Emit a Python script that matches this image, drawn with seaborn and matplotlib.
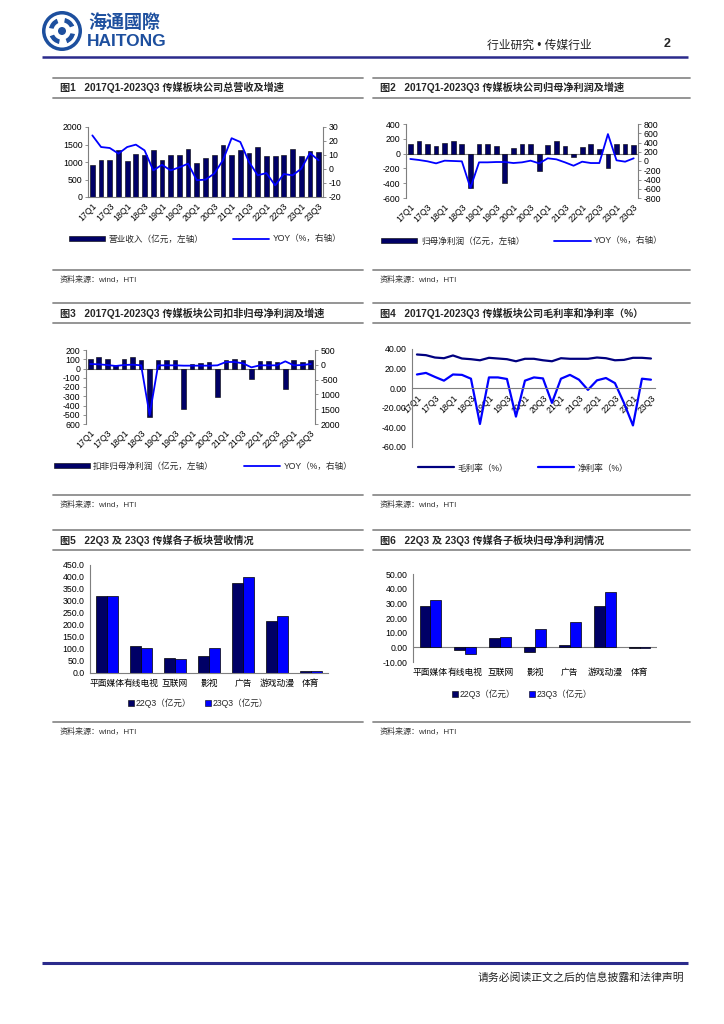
import numpy as np
import pandas as pd
import matplotlib
matplotlib.use('Agg')
import matplotlib.pyplot as plt
import seaborn as sns
from matplotlib.lines import Line2D
from matplotlib.patches import Patch, Circle, Wedge

# ---------------- data ----------------
quarters = ['17Q1', '17Q2', '17Q3', '17Q4', '18Q1', '18Q2', '18Q3', '18Q4',
            '19Q1', '19Q2', '19Q3', '19Q4', '20Q1', '20Q2', '20Q3', '20Q4',
            '21Q1', '21Q2', '21Q3', '21Q4', '22Q1', '22Q2', '22Q3', '22Q4',
            '23Q1', '23Q2', '23Q3']

revenue = [905, 1048, 1048, 1333, 1029, 1238, 1190, 1333, 1067, 1210, 1210, 1381,
           981, 1114, 1190, 1476, 1190, 1333, 1257, 1419, 1171, 1171, 1210, 1362,
           1171, 1305, 1276]
revenue_yoy = [24, 15.7, 15, 11, 15.7, 17.4, 13.3, -1, 3, -1, 1.2, 3.8, -8, -7.6, -3.3,
               6.2, 22, 19.3, 5, -4.5, -2.9, -11.7, -3.6, -4.5, 0.2, 11.4, 6.2]

np_parent = [132, 173, 123, 105, 145, 164, 123, -464, 123, 132, 105, -391, 73, 123, 123,
             -232, 118, 177, 105, -41, 91, 123, 64, -200, 123, 123, 118]
np_parent_yoy = [44, 22, -7, -51, 7, 0, -7, -582, -29, -29, -22, -22, -44, -29, 7, -51,
                 58, 36, -29, -102, -15, -44, -44, 582, 15, -15, 58]

np_deduct = [99, 121, 99, 34, 99, 124, 95, -521, 88, 88, 88, -441, 45, 56, 67, -304,
             88, 99, 88, -110, 85, 85, 67, -218, 88, 74, 88]
np_deduct_yoy = [27, 16, -7, -40, -7, 5, -18, -1695, -18, -18, -18, -29, -29, -29, -29,
                 -18, 95, 95, 50, -86, -18, -18, -18, 117, -18, -7, 27]

gross_margin = [34.4, 33.7, 31.3, 30.6, 33.4, 30.3, 29.6, 28.5, 31, 30.3, 29.6, 27.5, 30,
                30, 28.5, 27.5, 30.6, 30, 30, 30, 31.3, 30.6, 28.5, 28.9, 31, 31, 30.3]
net_margin = [14, 15.6, 11.5, 7.7, 14, 13.6, 9.7, -36.5, 11, 11, 9.4, -29, 7.7, 11, 10,
              -15, 9.7, 13.6, 8.7, -1.7, 8, 10.4, 5.2, -15, -38, 9.7, 8.7]

sectors = ['平面媒体', '有线电视', '互联网', '影视', '广告', '游戏动漫', '体育']
rev_22q3 = [322, 114, 61, 71, 377, 216, 10]
rev_23q3 = [319, 106, 58, 106, 402, 238, 7]
np_22q3 = [28.4, -1.6, 6.4, -3.0, 1.4, 28.2, -0.7]
np_23q3 = [32.3, -4.8, 7.3, 12.5, 17.5, 37.7, -0.5]
series_names = ['22Q3（亿元）', '23Q3（亿元）']

# ---------------- style ----------------
sns.set_theme(style='white')
plt.rcParams['font.family'] = ['Liberation Sans', 'Noto Sans CJK SC', 'DejaVu Sans']
plt.rcParams['axes.unicode_minus'] = False

NAVY = '#000066'
BLUE = '#0000FF'
DBLUE_LINE = '#000080'
GRAY = '#8c8c8c'
HEAD = '#2b2b8c'
TICK_FS = 6.3

W, H = 724, 1024
fig = plt.figure(figsize=(7.24, 10.24), dpi=100)
fig.patch.set_facecolor('white')

bg = fig.add_axes([0, 0, 1, 1])
bg.set_xlim(0, W)
bg.set_ylim(H, 0)
bg.axis('off')


def add_ax(x0, y0, x1, y1):
    return fig.add_axes([x0 / W, 1 - y1 / H, (x1 - x0) / W, (y1 - y0) / H])


# ---------------- header / footer ----------------
logo_c = (62, 31)
bg.add_patch(Circle(logo_c, 20, facecolor='#1d4f9e', edgecolor='none'))
bg.add_patch(Circle(logo_c, 16.5, facecolor='white', edgecolor='none'))
for ang in (0, 90, 180, 270):
    bg.add_patch(Wedge(logo_c, 14, ang + 10, ang + 70, width=6, facecolor='#1d4f9e'))
bg.add_patch(Circle(logo_c, 4, facecolor='#1d4f9e', edgecolor='none'))
bg.text(88, 23, '海通國際', fontsize=13, color='#1d4f9e', weight='bold', va='center')
bg.text(87, 41, 'HAITONG', fontsize=12.5, color='#1d4f9e', weight='bold', va='center')
bg.text(487, 46, '行业研究 • 传媒行业', fontsize=8.5, color='#222222', va='center')
bg.text(664, 44, '2', fontsize=9, weight='bold', va='center')
bg.plot([42, 688], [57, 57], color=HEAD, lw=1.8, solid_capstyle='butt')
bg.plot([42, 688], [963, 963], color=HEAD, lw=2.2, solid_capstyle='butt')
bg.text(684, 978, '请务必阅读正文之后的信息披露和法律声明', fontsize=7.8, ha='right',
        va='center', color='#222222')


# ---------------- section frames ----------------
def section(x0, x1, ytop, ybot, title):
    bg.plot([x0, x1], [ytop, ytop], color=GRAY, lw=1.3)
    bg.plot([x0, x1], [ytop + 20, ytop + 20], color=GRAY, lw=1.3)
    bg.plot([x0, x1], [ybot, ybot], color=GRAY, lw=1.3)
    bg.text(x0 + 7, ytop + 10, title, fontsize=7.3, weight='bold', va='center')
    bg.text(x0 + 7, ybot + 10, '资料来源：wind，HTI', fontsize=5.8, va='center',
            color='#333333')


section(53, 363, 77.5, 270, '图1   2017Q1-2023Q3 传媒板块公司总营收及增速')
section(373, 690, 77.5, 270, '图2   2017Q1-2023Q3 传媒板块公司归母净利润及增速')
section(53, 363, 303, 495, '图3   2017Q1-2023Q3 传媒板块公司扣非归母净利润及增速')
section(373, 690, 303, 495, '图4   2017Q1-2023Q3 传媒板块公司毛利率和净利率（%）')
section(53, 363, 530, 722, '图5   22Q3 及 23Q3 传媒各子板块营收情况')
section(373, 690, 530, 722, '图6   22Q3 及 23Q3 传媒各子板块归母净利润情况')


def style_axis(ax, left=True, right=False, bottom=True):
    for s in ax.spines.values():
        s.set_visible(False)
    ax.spines['left'].set_visible(left)
    ax.spines['right'].set_visible(right)
    ax.spines['bottom'].set_visible(bottom)
    for s in ax.spines.values():
        s.set_color('#7f7f7f')
        s.set_linewidth(0.8)
    ax.tick_params(axis='both', labelsize=TICK_FS, length=2.5, width=0.6, color='#7f7f7f',
                   pad=1.5, colors='black')
    ax.set_xlabel('')
    ax.set_ylabel('')
    ax.grid(False)
    ax.set_facecolor('none')


def ts_chart(rect, bars, line, ylim, yticks, ylabels, y2lim, y2ticks, y2labels,
             zero_line=False):
    ax = add_ax(*rect)
    sns.barplot(x=quarters, y=bars, color=NAVY, saturation=1, width=0.55,
                edgecolor='black', linewidth=0.4, ax=ax)
    ax2 = ax.twinx()
    sns.lineplot(x=np.arange(len(quarters)), y=line, ax=ax2, color=BLUE, lw=1.3)
    ax.set_xlim(-0.5, len(quarters) - 0.5)
    ax.set_ylim(*ylim)
    ax.set_yticks(yticks)
    ax.set_yticklabels(ylabels)
    ax2.set_ylim(*y2lim)
    ax2.set_yticks(y2ticks)
    ax2.set_yticklabels(y2labels)
    ax.set_xticks(range(0, len(quarters), 2))
    ax.set_xticklabels(quarters[::2], rotation=45, ha='right', rotation_mode='anchor')
    style_axis(ax, left=True, bottom=not zero_line)
    style_axis(ax2, left=False, right=True, bottom=False)
    ax.tick_params(axis='x', length=0, pad=3)
    if zero_line:
        ax.axhline(0, color='#7f7f7f', lw=0.8, zorder=0.5)
    return ax, ax2


def bar_line_legend(cx, cy, bar_label, line_label):
    handles = [Patch(facecolor=NAVY, edgecolor='black', linewidth=0.4),
               Line2D([], [], color=BLUE, lw=1.3)]
    fig.legend(handles, [bar_label, line_label], loc='center', ncol=2,
               bbox_to_anchor=(cx, cy), bbox_transform=bg.transData, frameon=False,
               fontsize=6.2, handlelength=4.2, handleheight=0.6, columnspacing=3.5,
               handletextpad=0.4)


# ---------------- Chart 1 ----------------
ts_chart((88, 127, 323, 197), revenue, revenue_yoy,
         (0, 2000), [0, 500, 1000, 1500, 2000], ['0', '500', '1000', '1500', '2000'],
         (-20, 30), [-20, -10, 0, 10, 20, 30], ['-20', '-10', '0', '10', '20', '30'])
bar_line_legend(205, 239, '营业收入（亿元，左轴）', 'YOY（%，右轴）')

# ---------------- Chart 2 ----------------
ts_chart((406, 124, 638, 198), np_parent, np_parent_yoy,
         (-600, 400), [-600, -400, -200, 0, 200, 400],
         ['-600', '-400', '-200', '0', '200', '400'],
         (-800, 800), list(range(-800, 801, 200)),
         ['-800', '-600', '-400', '-200', '0', '200', '400', '600', '800'],
         zero_line=True)
bar_line_legend(522, 241, '归母净利润（亿元，左轴）', 'YOY（%，右轴）')

# ---------------- Chart 3 ----------------
ts_chart((86, 350, 315, 424), np_deduct, np_deduct_yoy,
         (-600, 200), list(range(-600, 201, 100)),
         ['600', '-500', '-400', '-300', '-200', '-100', '0', '100', '200'],
         (-2000, 500), list(range(-2000, 501, 500)),
         ['2000', '1500', '1000', '-500', '0', '500'],
         zero_line=True)
bar_line_legend(203, 466, '扣非归母净利润（亿元，左轴）', 'YOY（%，右轴）')

# ---------------- Chart 4 ----------------
ax4 = add_ax(412, 349, 655, 447)
xs = np.arange(len(quarters))
sns.lineplot(x=xs, y=gross_margin, ax=ax4, color=DBLUE_LINE, lw=1.6)
sns.lineplot(x=xs, y=net_margin, ax=ax4, color=BLUE, lw=1.6)
ax4.set_xlim(-0.55, len(quarters) - 0.55)
ax4.set_ylim(-60, 40)
ax4.set_yticks([-60, -40, -20, 0, 20, 40])
ax4.set_yticklabels(['-60.00', '-40.00', '-20.00', '0.00', '20.00', '40.00'])
style_axis(ax4, left=True, bottom=True)
ax4.spines['bottom'].set_position(('data', 0))
ax4.set_xticks(range(0, len(quarters), 2))
ax4.set_xticklabels(quarters[::2], rotation=45, ha='right', rotation_mode='anchor')
ax4.tick_params(axis='x', length=2, pad=2)
fig.legend([Line2D([], [], color=DBLUE_LINE, lw=1.6), Line2D([], [], color=BLUE, lw=1.6)],
           ['毛利率（%）', '净利率（%）'], loc='center', ncol=2,
           bbox_to_anchor=(523, 468), bbox_transform=bg.transData, frameon=False,
           fontsize=6.2, handlelength=4.2, columnspacing=3.5, handletextpad=0.4)


# ---------------- Charts 5 & 6 ----------------
def group_chart(rect, v1, v2, ylim, yticks, fmt, zero_line=False):
    ax = add_ax(*rect)
    df = pd.DataFrame({'板块': sectors * 2,
                       '值': list(v1) + list(v2),
                       '期间': [series_names[0]] * len(sectors) + [series_names[1]] * len(sectors)})
    sns.barplot(data=df, x='板块', y='值', hue='期间', palette=[NAVY, BLUE], saturation=1,
                width=0.62, gap=0, edgecolor='black', linewidth=0.5, ax=ax, legend=False)
    ax.set_xlim(-0.5, len(sectors) - 0.5)
    ax.set_ylim(*ylim)
    ax.set_yticks(yticks)
    ax.set_yticklabels([fmt % t for t in yticks])
    style_axis(ax, left=True, bottom=not zero_line)
    ax.tick_params(axis='x', length=0, pad=4, labelsize=6.3)
    if zero_line:
        ax.axhline(0, color='#7f7f7f', lw=0.8, zorder=0.5)
    return ax


group_chart((90, 565, 328, 673), rev_22q3, rev_23q3, (0, 450),
            list(range(0, 451, 50)), '%.1f')
group_chart((413, 574, 657, 662), np_22q3, np_23q3, (-10, 50),
            list(range(-10, 51, 10)), '%.2f', zero_line=True)


def square_legend(cx, cy):
    handles = [Patch(facecolor=NAVY, edgecolor='black', linewidth=0.4),
               Patch(facecolor=BLUE, edgecolor='black', linewidth=0.4)]
    fig.legend(handles, series_names, loc='center', ncol=2,
               bbox_to_anchor=(cx, cy), bbox_transform=bg.transData, frameon=False,
               fontsize=6.2, handlelength=0.7, handleheight=0.7, columnspacing=1.5,
               handletextpad=0.2)


square_legend(198, 703)
square_legend(522, 694)

fig.savefig('out.png', dpi=100, facecolor='white')
